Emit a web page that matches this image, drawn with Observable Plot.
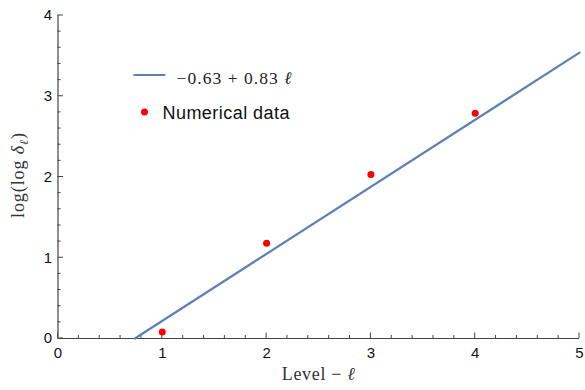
<!DOCTYPE html>
<html><head><meta charset="utf-8">
<script src="https://cdn.jsdelivr.net/npm/d3@7"></script>
<script src="https://cdn.jsdelivr.net/npm/@observablehq/plot@0.6"></script>
<style>body{margin:0;background:#fff}</style>
</head><body><div id="chart"></div>
<script>
const levels = [1, 2, 3, 4];
const values = [0.08, 1.18, 2.03, 2.79];
const fitX = [0.737, 5];
const fitY = [0, 3.54];
const xMajor = [0, 1, 2, 3, 4, 5];
const yMajor = [0, 1, 2, 3, 4];
const xMinor = d3.range(0, 5.001, 0.2).map(v => +v.toFixed(2)).filter(v => !xMajor.includes(v));
const yMinor = d3.range(0, 4.001, 0.2).map(v => +v.toFixed(2)).filter(v => !yMajor.includes(v));
const dotLabel = "Numerical data";

const points = levels.map((l, i) => ({l, v: values[i]}));
const fit = fitX.map((x, i) => ({x, y: fitY[i]}));
const axisColor = "#444";
const lineColor = "#5e81b5";

function ticks(index, scales, values, dims) {
  const g = d3.create("svg:g").attr("stroke", axisColor).attr("stroke-width", 1);
  const xs = scales.x, ys = scales.y;
  const yb = ys(0), xl = xs(0);
  for (const v of xMinor) g.append("line").attr("x1", xs(v)).attr("x2", xs(v)).attr("y1", yb).attr("y2", yb - 3);
  for (const v of xMajor) g.append("line").attr("x1", xs(v)).attr("x2", xs(v)).attr("y1", yb).attr("y2", yb - 5.5);
  for (const v of yMinor) g.append("line").attr("y1", ys(v)).attr("y2", ys(v)).attr("x1", xl).attr("x2", xl + 3);
  for (const v of yMajor) g.append("line").attr("y1", ys(v)).attr("y2", ys(v)).attr("x1", xl).attr("x2", xl + 5.5);
  return g.node();
}

function overlay(index, scales, values, dims) {
  const g = d3.create("svg:g").attr("text-anchor", "start");
  const x0 = dims.marginLeft, y0 = dims.marginTop;
  g.append("line").attr("x1", x0 + 76).attr("x2", x0 + 108).attr("y1", y0 + 60).attr("y2", y0 + 60)
    .attr("stroke", lineColor).attr("stroke-width", 2);
  const t1 = g.append("text").attr("x", x0 + 119).attr("y", y0 + 68.5)
    .attr("font-family", "'Liberation Serif', serif").attr("font-size", 17.5).attr("fill", "#222")
    .attr("textLength", 115).attr("lengthAdjust", "spacing");
  t1.append("tspan").text("−0.63 + 0.83 ");
  t1.append("tspan").attr("font-style", "italic").text("ℓ");
  g.append("circle").attr("cx", x0 + 87).attr("cy", y0 + 97).attr("r", 3.5).attr("fill", "red");
  g.append("text").attr("x", x0 + 105).attr("y", y0 + 103.5)
    .attr("font-family", "'Liberation Sans', Arial, sans-serif").attr("font-size", 18).attr("fill", "#111")
    .attr("textLength", 127).attr("lengthAdjust", "spacing").text(dotLabel);
  const cx = (dims.marginLeft + dims.width - dims.marginRight) / 2;
  const xlab = g.append("text").attr("x", cx - 36.5).attr("y", dims.height - 10)
    .attr("font-family", "'Liberation Serif', serif").attr("font-size", 18).attr("fill", "#333")
    .attr("textLength", 73).attr("lengthAdjust", "spacing");
  xlab.append("tspan").text("Level − ");
  xlab.append("tspan").attr("font-style", "italic").text("ℓ");
  const cy = (dims.marginTop + dims.height - dims.marginBottom) / 2;
  const ylab = g.append("text").attr("transform", `translate(24,${cy - 1 + 42.5}) rotate(-90)`)
    .attr("font-family", "'Liberation Serif', serif").attr("font-size", 18).attr("fill", "#333")
    .attr("textLength", 85).attr("lengthAdjust", "spacing");
  ylab.append("tspan").text("log(log ");
  ylab.append("tspan").attr("font-style", "italic").text("δ");
  ylab.append("tspan").attr("font-style", "italic").attr("font-size", 12).attr("dy", 4).text("ℓ");
  ylab.append("tspan").attr("dy", -4).text(")");
  return g.node();
}

const chart = Plot.plot({
  width: 585, height: 390,
  marginLeft: 57.5, marginRight: 6, marginTop: 15, marginBottom: 52,
  style: {fontFamily: "'Liberation Sans', Arial, sans-serif", fontSize: "15px", color: "#111", background: "white"},
  x: {domain: [0, 5]},
  y: {domain: [0, 4]},
  marks: [
    Plot.axisX(xMajor, {tickSize: 0, tickPadding: 9, label: null, fontSize: 15, fill: "#111", tickFormat: d => String(d)}),
    Plot.axisY(yMajor, {tickSize: 0, tickPadding: 6, label: null, fontSize: 15, fill: "#111", tickFormat: d => String(d)}),
    ticks,
    Plot.ruleY([0], {stroke: axisColor, strokeWidth: 1.2}),
    Plot.ruleX([0], {stroke: axisColor, strokeWidth: 1.2}),
    Plot.line(fit, {x: "x", y: "y", stroke: lineColor, strokeWidth: 2.2}),
    Plot.dot(points, {x: "l", y: "v", r: 3.5, fill: "red"}),
    overlay
  ]
});
document.getElementById("chart").append(chart);
</script>
</body></html>
